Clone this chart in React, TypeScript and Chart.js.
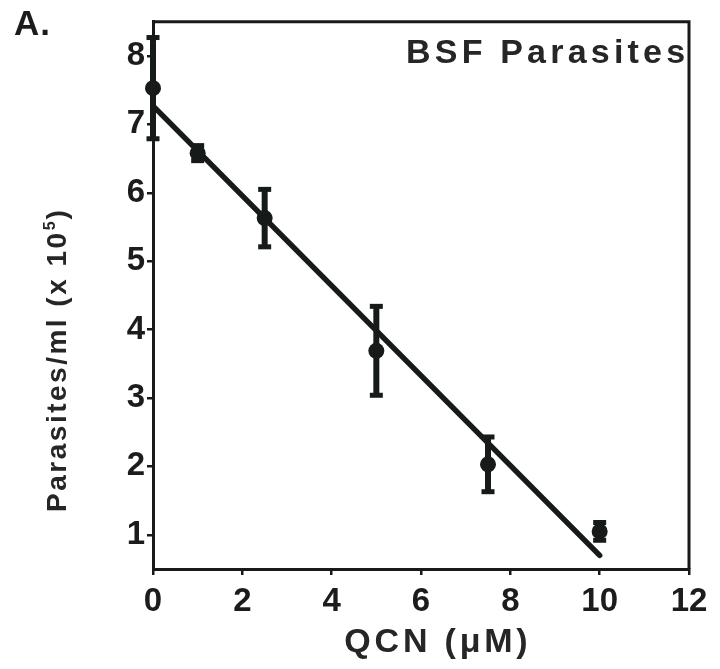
import { useEffect, useRef } from "react";
import { Chart, registerables } from "chart.js";

Chart.register(...registerables);

const qcnDoses = [0, 1, 2.5, 5, 7.5, 10];
const parasiteMeans = [7.53, 6.58, 5.63, 3.69, 2.03, 1.05];
const parasiteErrors = [0.74, 0.11, 0.42, 0.65, 0.4, 0.13];
const fitDoses = [0, 10];
const fitValues = [7.27, 0.7];
const xTickValues = [0, 2, 4, 6, 8, 10, 12];
const yTickValues = [1, 2, 3, 4, 5, 6, 7, 8];
const panelLabel = "A.";
const panelTitle = "BSF Parasites";
const xTitle = "QCN (μM)";
const yTitleMain = "Parasites/ml (x 10";
const yTitleSup = "5";
const yTitleEnd = ")";

const INK = "#161b19";
const TEXT = "#1c1c1c";
const FONT = '"Liberation Sans", Arial, Helvetica, sans-serif';

function spacedWidth(ctx: CanvasRenderingContext2D, s: string, ls: number) {
  (ctx as any).letterSpacing = "0px";
  const w = ctx.measureText(s).width;
  return w + ls * (s.length - 1);
}

const errorBarPlugin = {
  id: "errorBars",
  beforeDatasetsDraw(chart: any) {
    const ctx = chart.ctx as CanvasRenderingContext2D;
    const xs = chart.scales.x;
    const ys = chart.scales.y;
    ctx.save();
    ctx.fillStyle = INK;
    qcnDoses.forEach((d, i) => {
      const px = xs.getPixelForValue(d);
      const top = ys.getPixelForValue(parasiteMeans[i] + parasiteErrors[i]);
      const bot = ys.getPixelForValue(parasiteMeans[i] - parasiteErrors[i]);
      ctx.fillRect(px - 3, top, 6, bot - top);
      ctx.fillRect(px - 6.5, top - 2.5, 13, 5);
      ctx.fillRect(px - 6.5, bot - 2.5, 13, 5);
    });
    ctx.restore();
  },
};

const framePlugin = {
  id: "frameAndText",
  afterDraw(chart: any) {
    const ctx = chart.ctx as CanvasRenderingContext2D;
    const a = chart.chartArea;
    ctx.save();
    ctx.strokeStyle = INK;
    ctx.lineWidth = 3;
    ctx.beginPath();
    ctx.moveTo(a.left, a.top);
    ctx.lineTo(a.right, a.top);
    ctx.lineTo(a.right, a.bottom);
    ctx.stroke();

    ctx.fillStyle = TEXT;
    ctx.textBaseline = "alphabetic";
    ctx.textAlign = "left";

    // panel label
    ctx.font = `bold 35px ${FONT}`;
    (ctx as any).letterSpacing = "1px";
    ctx.fillText(panelLabel, 14, 35);

    // panel title
    ctx.fillStyle = "#262626";
    ctx.font = `bold 34px ${FONT}`;
    (ctx as any).letterSpacing = "4.2px";
    ctx.fillText(panelTitle, 406, 63);

    // x title
    ctx.font = `bold 34px ${FONT}`;
    const xw = spacedWidth(ctx, xTitle, 3.8);
    (ctx as any).letterSpacing = "3.8px";
    ctx.fillText(xTitle, 436 - xw / 2, 652);

    // y title (rotated)
    ctx.save();
    ctx.translate(66, 361);
    ctx.rotate(-Math.PI / 2);
    const ls = 2.5;
    ctx.font = `bold 28px ${FONT}`;
    const w1 = spacedWidth(ctx, yTitleMain, ls) + ls;
    const w3 = spacedWidth(ctx, yTitleEnd, ls);
    ctx.font = `bold 16px ${FONT}`;
    const w2 = spacedWidth(ctx, yTitleSup, 0) + 2;
    const total = w1 + w2 + w3;
    let x = -total / 2;
    ctx.font = `bold 28px ${FONT}`;
    (ctx as any).letterSpacing = `${ls}px`;
    ctx.fillText(yTitleMain, x, 0);
    x += w1;
    ctx.font = `bold 16px ${FONT}`;
    (ctx as any).letterSpacing = "0px";
    ctx.fillText(yTitleSup, x, -11);
    x += w2;
    ctx.font = `bold 28px ${FONT}`;
    ctx.fillText(yTitleEnd, x, 0);
    ctx.restore();

    ctx.restore();
  },
};

export default function App() {
  const ref = useRef<HTMLCanvasElement | null>(null);

  useEffect(() => {
    if (!ref.current) return;
    const tickFont = { family: FONT, size: 33, weight: "bold" as const };
    const chart = new Chart(ref.current, {
      type: "scatter",
      data: {
        datasets: [
          {
            type: "scatter",
            label: "Parasites",
            data: qcnDoses.map((d, i) => ({ x: d, y: parasiteMeans[i] })),
            pointRadius: 8,
            pointBackgroundColor: INK,
            pointBorderColor: INK,
            pointBorderWidth: 0,
            clip: false as any,
            order: 0,
          },
          {
            type: "line",
            label: "Fit",
            data: fitDoses.map((d, i) => ({ x: d, y: fitValues[i] })),
            borderColor: INK,
            borderWidth: 5.5,
            borderCapStyle: "round",
            pointRadius: 0,
            fill: false,
            clip: false as any,
            order: 1,
          } as any,
        ],
      },
      options: {
        responsive: false,
        animation: false,
        devicePixelRatio: 1,
        layout: { padding: { top: 7, right: 31, left: 0, bottom: 0 } },
        plugins: {
          legend: { display: false },
          tooltip: { enabled: false },
        },
        scales: {
          x: {
            type: "linear",
            min: 0,
            max: 12,
            afterBuildTicks: (s: any) => {
              s.ticks = xTickValues.map((v) => ({ value: v }));
            },
            afterFit: (s: any) => {
              s.height = 100;
            },
            grid: {
              drawOnChartArea: false,
              drawTicks: true,
              tickLength: 6,
              color: INK,
              lineWidth: 2.5,
            },
            border: { display: true, color: INK, width: 3 },
            ticks: {
              font: tickFont,
              color: TEXT,
              padding: 7,
              maxRotation: 0,
              autoSkip: false,
            },
          },
          y: {
            type: "linear",
            min: 0.5,
            max: 8.5,
            afterBuildTicks: (s: any) => {
              s.ticks = yTickValues.map((v) => ({ value: v }));
            },
            afterFit: (s: any) => {
              s.width = 153;
            },
            grid: {
              drawOnChartArea: false,
              drawTicks: true,
              tickLength: 6,
              color: INK,
              lineWidth: 2.5,
            },
            border: { display: true, color: INK, width: 3 },
            ticks: {
              font: tickFont,
              color: TEXT,
              padding: 2,
              autoSkip: false,
            },
          },
        },
      },
      plugins: [errorBarPlugin, framePlugin],
    });
    return () => chart.destroy();
  }, []);

  return (
    <div style={{ position: "absolute", left: 0, top: 0, width: 720, height: 669, background: "#ffffff" }}>
      <canvas ref={ref} width={720} height={669} style={{ display: "block" }} />
    </div>
  );
}
